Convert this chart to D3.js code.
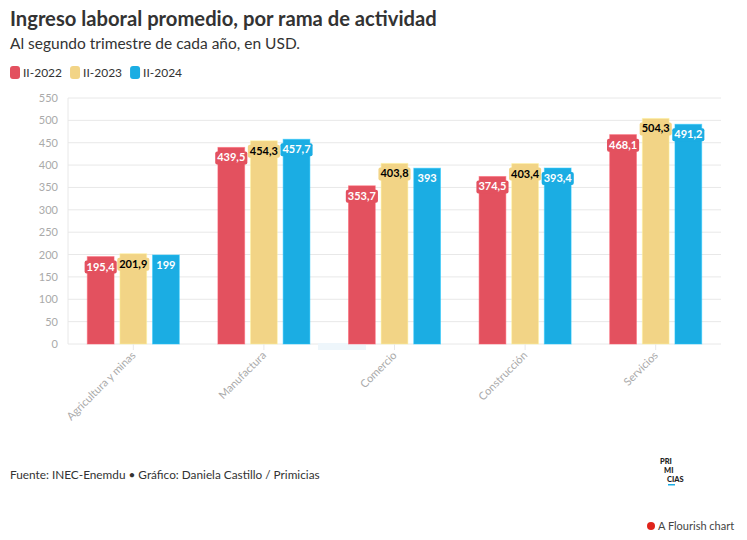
<!DOCTYPE html>
<html><head><meta charset="utf-8">
<script src="https://cdn.jsdelivr.net/npm/d3@7"></script>
<style>
body{margin:0;background:#fff;font-family:"Lato","Noto Sans",sans-serif;}
svg text{font-family:"Lato","Noto Sans",sans-serif;}
</style></head>
<body><svg id="c" width="747" height="540"></svg>
<script>
const categories = ["Agricultura y minas","Manufactura","Comercio","Construcción","Servicios"];
const seriesNames = ["II-2022","II-2023","II-2024"];
const s2022 = [195.4, 439.5, 353.7, 374.5, 468.1];
const s2023 = [201.9, 454.3, 403.8, 403.4, 504.3];
const s2024 = [199, 457.7, 393, 393.4, 491.2];
const yTicks = [0,50,100,150,200,250,300,350,400,450,500,550];
const colors = ["#e3515f","#f2d486","#1badE3"];
const textColors = ["#fff","#000","#fff"];

const series = [s2022, s2023, s2024];
const svg = d3.select("#c");

svg.append("text").attr("x",10).attr("y",26).attr("font-size",20.2).attr("font-weight",700).attr("fill","#333")
  .text("Ingreso laboral promedio, por rama de actividad");
svg.append("text").attr("x",10).attr("y",49).attr("font-size",15.5).attr("fill","#333")
  .text("Al segundo trimestre de cada año, en USD.");

// legend
let lx = 10;
seriesNames.forEach((n,i)=>{
  svg.append("rect").attr("x",lx).attr("y",66).attr("width",10).attr("height",13).attr("rx",3).attr("fill",colors[i]);
  const t = svg.append("text").attr("x",lx+13).attr("y",77).attr("font-size",12).attr("fill","#333").text(n);
  lx += 13 + t.node().getComputedTextLength() + 8;
});

const x = d3.scaleBand().domain(categories).range([68,721]);
const y = d3.scaleLinear().domain([0,550]).range([344,98]);
const sub = d3.scaleBand().domain(seriesNames).range([-46,46]).paddingInner(0.18);

// grid
const g = svg.append("g");
g.selectAll("line.grid").data(yTicks).join("line")
  .attr("x1",68).attr("x2",721).attr("y1",d=>y(d)).attr("y2",d=>y(d))
  .attr("stroke","#e8e8e8").attr("stroke-width",1);
g.append("line").attr("x1",68).attr("x2",68).attr("y1",y(550)).attr("y2",y(0)).attr("stroke","#e8e8e8");
g.selectAll("text.yl").data(yTicks).join("text")
  .attr("x",58).attr("y",d=>y(d)+4).attr("text-anchor","end").attr("font-size",11).attr("fill","#aaa")
  .text(d=>d);

// faint watermark mark
svg.append("rect").attr("x",318).attr("y",343).attr("width",48).attr("height",7).attr("fill","#eef6fb");

// bars
categories.forEach((c,ci)=>{
  series.forEach((s,si)=>{
    const bx = x(c)+x.bandwidth()/2 + sub(seriesNames[si]);
    const bw = sub.bandwidth();
    svg.append("rect").attr("x",bx).attr("y",y(s[ci])).attr("width",bw).attr("height",y(0)-y(s[ci]))
      .attr("fill",colors[si]).attr("stroke",d3.color(colors[si]).brighter(0.4)).attr("stroke-opacity",0.5);
  });
});
// labels
categories.forEach((c,ci)=>{
  series.forEach((s,si)=>{
    const cx = x(c)+x.bandwidth()/2 + sub(seriesNames[si]) + sub.bandwidth()/2;
    const ty = y(s[ci]) + 14;
    const label = String(s[ci]).replace(".",",");
    const t = svg.append("text").attr("x",cx).attr("y",ty).attr("text-anchor","middle")
      .attr("font-size",11).attr("font-weight",700).attr("fill",textColors[si]).text(label);
    const w = t.node().getComputedTextLength();
    svg.insert("rect", function(){return t.node();}).attr("x",cx-w/2-2).attr("y",ty-10).attr("width",w+4).attr("height",13)
      .attr("rx",2).attr("fill",colors[si]);
  });
});

// x axis ticks and labels
categories.forEach(c=>{
  const cx = x(c)+x.bandwidth()/2;
  svg.append("line").attr("x1",cx).attr("x2",cx).attr("y1",344).attr("y2",350).attr("stroke","#e8e8e8");
  svg.append("text").attr("transform",`translate(${cx+3},${356}) rotate(-45)`).attr("text-anchor","end")
    .attr("font-size",11).attr("fill","#aaa").text(c);
});

// footer
svg.append("text").attr("x",10).attr("y",479).attr("font-size",11.8).attr("fill","#333")
  .text("Fuente: INEC-Enemdu • Gráfico: Daniela Castillo / Primicias");
const logo = svg.append("g").attr("font-size",7.5).attr("font-weight",900).attr("fill","#222").attr("font-family","DejaVu Sans Condensed");
logo.append("text").attr("x",660).attr("y",464).text("PRI");
logo.append("text").attr("x",664).attr("y",473).text("MI");
logo.append("text").attr("x",667).attr("y",482).text("CIAS");
svg.append("rect").attr("x",668).attr("y",484).attr("width",7).attr("height",1.5).attr("fill","#1badE3");

const fl = svg.append("g");
fl.append("circle").attr("cx",651).attr("cy",526).attr("r",4).attr("fill","#e0241b");
fl.append("text").attr("x",658).attr("y",530).attr("font-size",11).attr("fill","#444").text("A Flourish chart");
</script></body></html>
